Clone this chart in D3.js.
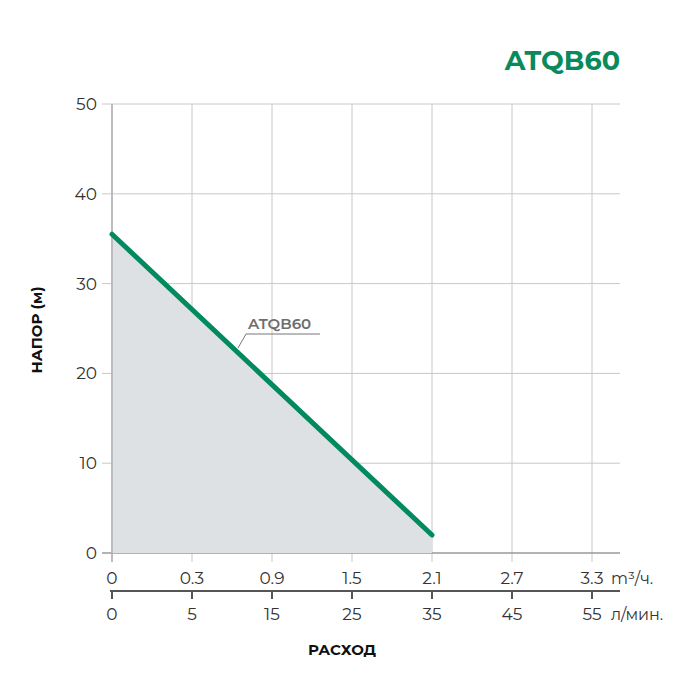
<!DOCTYPE html>
<html><head><meta charset="utf-8">
<script src="https://cdn.jsdelivr.net/npm/d3@7"></script>
<style>body{margin:0;background:#fff;font-family:Montserrat,"Open Sans",sans-serif;}</style>
</head><body>
<script>
// data
var m3Labels = ['0', '0.3', '0.9', '1.5', '2.1', '2.7', '3.3'];
var lminLabels = ['0', '5', '15', '25', '35', '45', '55'];
var yTicks = [0, 10, 20, 30, 40, 50];
var curveIdx = [0, 4];       // position on the flow axis (tick index)
var curveHead = [35.5, 2];   // metres

var w = 700, h = 688;
var svg = d3.select('body').append('svg').attr('width', w).attr('height', h);

var x = d3.scaleLinear().domain([0, 6]).range([112, 592]);
var y = d3.scaleLinear().domain([0, 50]).range([553, 104]);
var pts = curveIdx.map(function(d, i) { return [d, curveHead[i]]; });

// grid
svg.selectAll('line.vg').data(m3Labels).enter().append('line')
    .attr('x1', function(d, i) { return x(i); }).attr('x2', function(d, i) { return x(i); })
    .attr('y1', y(50)).attr('y2', 562)
    .attr('stroke', '#c8c8c8').attr('stroke-width', 1);
svg.selectAll('line.hg').data(yTicks).enter().append('line')
    .attr('x1', 102).attr('x2', 620)
    .attr('y1', function(d) { return y(d); }).attr('y2', function(d) { return y(d); })
    .attr('stroke', function(d) { return d === 0 ? '#9a9a9a' : '#c8c8c8'; })
    .attr('stroke-width', function(d) { return d === 0 ? 1.5 : 1; });

// area + curve
svg.append('path')
    .datum(pts)
    .attr('d', d3.area().x(function(d) { return x(d[0]); }).y0(y(0)).y1(function(d) { return y(d[1]); }))
    .attr('fill', '#dde1e4');
svg.append('line').attr('x1', x(0)).attr('x2', x(0)).attr('y1', y(50)).attr('y2', 562)
    .attr('stroke', '#b0b0b0').attr('stroke-width', 1.5);
svg.append('path')
    .datum(pts)
    .attr('d', d3.line().x(function(d) { return x(d[0]); }).y(function(d) { return y(d[1]); }))
    .attr('stroke', '#008a5e').attr('stroke-width', 5).attr('stroke-linecap', 'round').attr('fill', 'none');

// curve label
svg.append('path').attr('d', 'M238,348 L246,334 L320,334').attr('stroke', '#777').attr('fill', 'none');
svg.append('text').attr('x', 248).attr('y', 329).text('ATQB60')
    .attr('font-size', 15).attr('font-weight', 600).attr('fill', '#6e6e6e');

// y tick labels
svg.selectAll('text.yt').data(yTicks).enter().append('text')
    .attr('x', 97).attr('y', function(d) { return y(d) + 6; })
    .attr('text-anchor', 'end').attr('font-size', 17).attr('fill', '#333').text(function(d) { return d; });
svg.append('text').attr('transform', 'translate(42,330) rotate(-90)')
    .attr('text-anchor', 'middle').attr('font-size', 15).attr('font-weight', 700).attr('fill', '#111')
    .text('НАПОР (м)');

// x axis rows
svg.selectAll('text.m3').data(m3Labels).enter().append('text')
    .attr('x', function(d, i) { return x(i); }).attr('y', 584)
    .attr('text-anchor', 'middle').attr('font-size', 17).attr('fill', '#333').text(function(d) { return d; });
svg.append('text').attr('x', 611).attr('y', 584).attr('font-size', 16).attr('fill', '#333').text('m³/ч.');

svg.append('line').attr('x1', 110).attr('x2', 620).attr('y1', 591).attr('y2', 591)
    .attr('stroke', '#555').attr('stroke-width', 2);
svg.selectAll('line.tk').data(lminLabels).enter().append('line')
    .attr('x1', function(d, i) { return x(i); }).attr('x2', function(d, i) { return x(i); })
    .attr('y1', 591).attr('y2', 599).attr('stroke', '#555').attr('stroke-width', 2);
svg.selectAll('text.lm').data(lminLabels).enter().append('text')
    .attr('x', function(d, i) { return x(i); }).attr('y', 620)
    .attr('text-anchor', 'middle').attr('font-size', 17).attr('fill', '#333').text(function(d) { return d; });
svg.append('text').attr('x', 611).attr('y', 620).attr('font-size', 16).attr('fill', '#333').text('л/мин.');

svg.append('text').attr('x', 342).attr('y', 655).attr('text-anchor', 'middle')
    .attr('font-size', 15).attr('font-weight', 700).attr('fill', '#111').text('РАСХОД');

// title
svg.append('text').attr('x', 620).attr('y', 70).attr('text-anchor', 'end')
    .attr('font-size', 27).attr('font-weight', 700).attr('fill', '#0a8a5c').text('ATQB60');
</script>
</body></html>
